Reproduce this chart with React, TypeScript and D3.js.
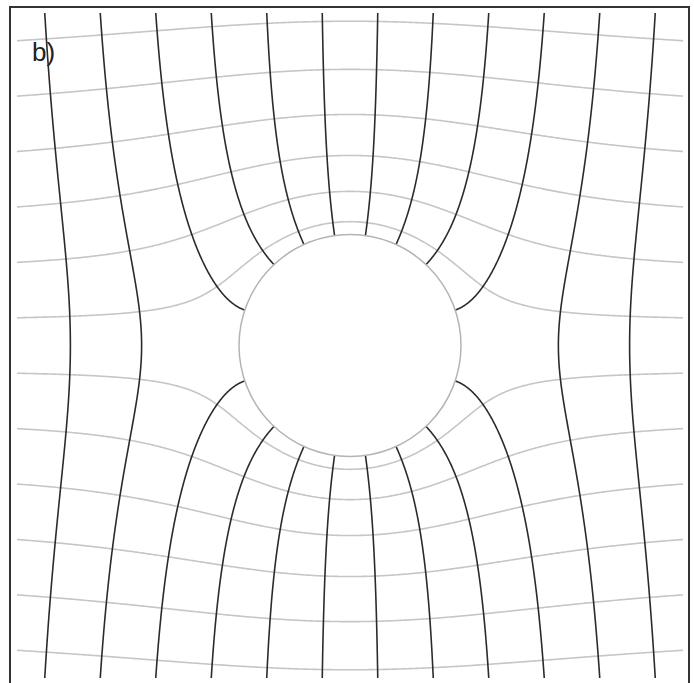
import React from 'react';
import * as d3 from 'd3';

// field lines start at these x positions on the top edge (units of the sphere radius)
const fieldSeeds = [-2.75, -2.25, -1.75, -1.25, -0.75, -0.25, 0.25, 0.75, 1.25, 1.75, 2.25, 2.75];
// equipotentials start at these y positions on the side edges
const potentialSeeds = [-2.75, -2.25, -1.75, -1.25, -0.75, -0.25, 0.25, 0.75, 1.25, 1.75, 2.25, 2.75];
const EDGE = 3;
const label = 'b)';

const W = 694;
const H = 683;

type Pt = { x: number, y: number };

// stream function of a conducting cylinder (radius 1) in a vertical field: psi = cos(a)(r + 1/r)
function fieldLine(x0: number): Pt[][] {
    let c = x0 * (1 + 1 / (x0 * x0 + EDGE * EDGE));
    let rMax = 6;
    let n = 400;
    if (Math.abs(c) < 2) {
        // ends on the cylinder, two separate pieces (top and bottom)
        let top: Pt[] = [];
        for (let i = 0; i <= n; i++) {
            let t = i / n;
            let r = 1 + t * t * (rMax - 1);
            let a = Math.acos(Math.max(-1, Math.min(1, c / (r + 1 / r))));
            top.push({ x: r * Math.cos(a), y: r * Math.sin(a) });
        }
        let bottom = top.map(p => ({ x: p.x, y: -p.y }));
        return [top, bottom];
    }
    // goes around the cylinder
    let s = Math.abs(c);
    let r0 = (s + Math.sqrt(s * s - 4)) / 2;
    let upper: Pt[] = [];
    for (let i = 0; i <= n; i++) {
        let t = i / n;
        let r = r0 + t * t * (rMax - r0);
        let a = Math.acos(Math.max(-1, Math.min(1, c / (r + 1 / r))));
        upper.push({ x: r * Math.cos(a), y: r * Math.sin(a) });
    }
    let lower = upper.slice().reverse().map(p => ({ x: p.x, y: -p.y }));
    return [lower.concat(upper)];
}

// potential: phi = sin(a)(r - 1/r)
function potentialLine(y0: number): Pt[] {
    let c = y0 * (1 - 1 / (y0 * y0 + EDGE * EDGE));
    let s = Math.abs(c);
    let r0 = (s + Math.sqrt(s * s + 4)) / 2;
    let rMax = 6;
    let n = 400;
    let right: Pt[] = [];
    for (let i = 0; i <= n; i++) {
        let t = i / n;
        let r = r0 + t * t * (rMax - r0);
        let a = Math.asin(Math.max(-1, Math.min(1, c / (r - 1 / r))));
        right.push({ x: r * Math.cos(a), y: r * Math.sin(a) });
    }
    let left = right.slice().reverse().map(p => ({ x: -p.x, y: p.y }));
    return left.concat(right);
}

export default function App() {
    const x = d3.scaleLinear().domain([-EDGE, EDGE]).range([17, 683]);
    const y = d3.scaleLinear().domain([EDGE, -EDGE]).range([13, 678]);

    const line = d3.line<Pt>()
        .x(d => x(d.x))
        .y(d => y(d.y))
        .curve(d3.curveLinear);

    const fieldPaths = fieldSeeds.flatMap(s => fieldLine(s));
    const potentialPaths = potentialSeeds.map(s => potentialLine(s));

    return (
        <svg width={W} height={H} style={{ position: 'absolute', left: 0, top: 0, background: '#fff' }}>
            <defs>
                <clipPath id="plot">
                    <rect x={x(-EDGE)} y={y(EDGE)} width={x(EDGE) - x(-EDGE)} height={y(-EDGE) - y(EDGE)} />
                </clipPath>
            </defs>
            <rect x={0} y={0} width={W} height={H} fill="#fff" />
            <g clipPath="url(#plot)">
                {potentialPaths.map((p, i) => (
                    <path key={'p' + i} d={line(p) || ''} fill="none" stroke="#c6c6c6" strokeWidth={1.6} />
                ))}
                {fieldPaths.map((p, i) => (
                    <path key={'f' + i} d={line(p) || ''} fill="none" stroke="#2b2b2b" strokeWidth={1.6} />
                ))}
            </g>
            <circle
                cx={x(0)} cy={y(0)} r={x(1) - x(0)}
                fill="none" stroke="#b4b4b4" strokeWidth={1.5}
            />
            <rect x={10} y={7} width={679} height={690} fill="none" stroke="#333" strokeWidth={2} />
            <text x={32} y={61} fontFamily="Liberation Sans, Arial, sans-serif" fontSize={26} fill="#222">{label}</text>
        </svg>
    );
}
